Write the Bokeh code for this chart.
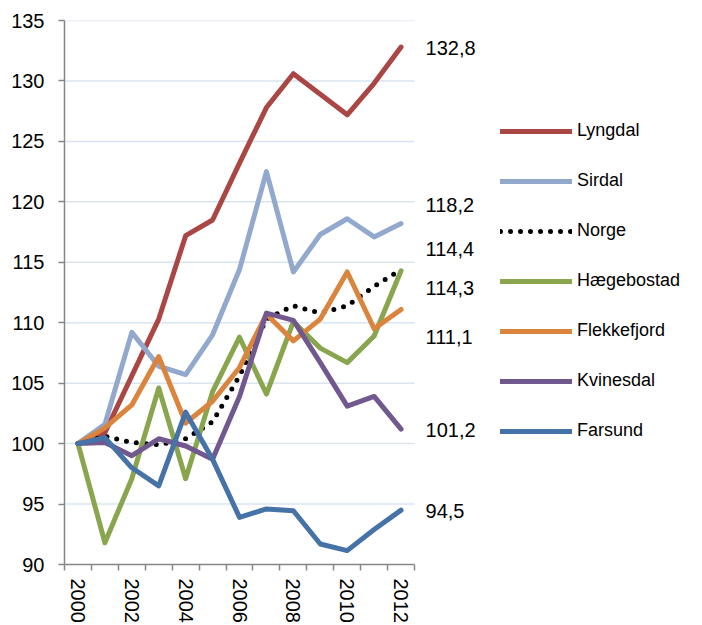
import math
from bokeh.plotting import figure
from bokeh.models import FixedTicker, Legend, LegendItem, Range1d, ColumnDataSource
from bokeh.embed import file_html
from bokeh.resources import INLINE
from bokeh.core.properties import value

# ---- data ----
years = list(range(2000, 2013))
lyngdal = [100, 100.9, 105.6, 110.3, 117.2, 118.5, 123.2, 127.8, 130.6, 128.9, 127.2, 129.8, 132.8]
sirdal = [100, 101.6, 109.2, 106.4, 105.7, 109.0, 114.4, 122.5, 114.2, 117.3, 118.6, 117.1, 118.2]
norge = [100, 100.6, 100.1, 99.9, 100.4, 101.8, 105.6, 110.3, 111.4, 110.8, 111.4, 113.0, 114.4]
haegebostad = [100, 91.8, 97.1, 104.6, 97.1, 104.3, 108.8, 104.1, 110.1, 107.9, 106.7, 108.9, 114.3]
flekkefjord = [100, 101.3, 103.2, 107.2, 101.7, 103.5, 106.3, 110.7, 108.5, 110.3, 114.2, 109.5, 111.1]
kvinesdal = [100, 100.1, 99.0, 100.4, 99.8, 98.7, 103.9, 110.8, 110.2, 106.7, 103.1, 103.9, 101.2]
farsund = [100, 100.5, 98.0, 96.5, 102.6, 98.7, 93.9, 94.6, 94.45, 91.7, 91.15, 92.9, 94.5]

series_names = ["Lyngdal", "Sirdal", "Norge", "Hægebostad", "Flekkefjord", "Kvinesdal", "Farsund"]
series_values = [lyngdal, sirdal, norge, haegebostad, flekkefjord, kvinesdal, farsund]
series_colors = ["#AA4643", "#92A8CD", "#000000", "#89A54E", "#DB843D", "#71588F", "#4572A7"]

x_tick_labels = [2000, 2002, 2004, 2006, 2008, 2010, 2012]
y_ticks = [90, 95, 100, 105, 110, 115, 120, 125, 130, 135]

end_labels = ["132,8", "118,2", "114,4", "114,3", "111,1", "101,2", "94,5"]
end_label_pos = [132.7, 119.7, 116.1, 112.9, 108.8, 101.1, 94.4]

FONT = "Liberation Sans"

x_start = years[0] - 0.5
x_end = years[-1] + 0.5

p = figure(width=690, height=625, output_backend="svg", toolbar_location=None,
           x_range=Range1d(x_start, 2022.75), y_range=Range1d(y_ticks[0], y_ticks[-1]),
           min_border_left=64, min_border_top=20, min_border_right=0, min_border_bottom=0)
p.outline_line_color = None
p.xgrid.visible = False
p.ygrid.visible = False
p.background_fill_color = "white"
p.border_fill_color = "white"

# horizontal gridlines, limited to the category span
p.segment(x0=x_start, x1=x_end, y0=y_ticks[1:], y1=y_ticks[1:],
          line_color="#D9E4F1", line_width=1.5)

# x axis
xa = p.xaxis[0]
xa.ticker = FixedTicker(ticks=x_tick_labels,
                        minor_ticks=[y - 0.5 for y in years] + [x_end])
xa.bounds = (x_start, x_end)
xa.axis_line_color = "#868686"
xa.axis_line_width = 1.5
xa.major_tick_line_color = None
xa.major_tick_out = 6
xa.major_tick_in = 0
xa.minor_tick_line_color = "#868686"
xa.minor_tick_line_width = 1.5
xa.minor_tick_out = 6
xa.minor_tick_in = 0
xa.major_label_orientation = -math.pi / 2
xa.major_label_standoff = 8
xa.major_label_text_font = FONT
xa.major_label_text_font_size = "20px"
xa.major_label_text_color = "black"

# y axis
ya = p.yaxis[0]
ya.ticker = FixedTicker(ticks=y_ticks, minor_ticks=[])
ya.axis_line_color = "#868686"
ya.axis_line_width = 1.5
ya.major_tick_line_color = "#868686"
ya.major_tick_line_width = 1.5
ya.major_tick_out = 6
ya.major_tick_in = 0
ya.minor_tick_line_color = None
ya.major_label_standoff = 14
ya.major_label_text_font = FONT
ya.major_label_text_font_size = "20px"
ya.major_label_text_color = "black"

items = []
for name, vals, col in zip(series_names, series_values, series_colors):
    src = ColumnDataSource(dict(x=years, y=vals))
    if name == "Norge":
        r = p.line("x", "y", source=src, line_color=col, line_width=5,
                   line_dash="0 10", line_cap="round", line_join="round")
    else:
        r = p.line("x", "y", source=src, line_color=col, line_width=5,
                   line_cap="round", line_join="round")
    items.append(LegendItem(label=name, renderers=[r]))

# end value labels
p.text(x=[x_end + 0.41] * len(end_labels), y=end_label_pos, text=end_labels,
       text_font=value(FONT), text_font_size="20px", text_color="black",
       text_align="left", text_baseline="middle")

legend = Legend(items=items, location=(436, 123), orientation="vertical",
                glyph_width=72, glyph_height=20, label_height=20,
                label_standoff=5, spacing=29, padding=0, margin=0,
                border_line_color=None, background_fill_alpha=0,
                label_text_font=FONT, label_text_font_size="18px",
                label_text_color="black", label_text_baseline="middle")
p.add_layout(legend, "center")

open("out.html", "w").write(file_html(p, INLINE))
